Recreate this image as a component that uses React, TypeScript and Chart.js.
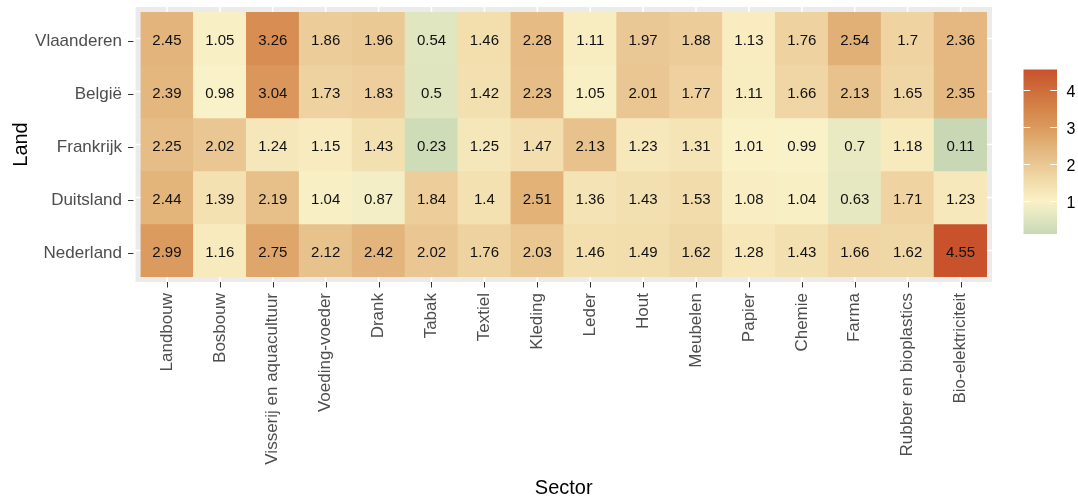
import React, { useEffect, useRef } from "react";
import { Chart, registerables } from "chart.js";

Chart.register(...registerables);

const lands = ["Vlaanderen", "België", "Frankrijk", "Duitsland", "Nederland"];
const sectors = [
  "Landbouw",
  "Bosbouw",
  "Visserij en aquacultuur",
  "Voeding-voeder",
  "Drank",
  "Tabak",
  "Textiel",
  "Kleding",
  "Leder",
  "Hout",
  "Meubelen",
  "Papier",
  "Chemie",
  "Farma",
  "Rubber en bioplastics",
  "Bio-elektriciteit",
];

const vlaanderen = [2.45, 1.05, 3.26, 1.86, 1.96, 0.54, 1.46, 2.28, 1.11, 1.97, 1.88, 1.13, 1.76, 2.54, 1.7, 2.36];
const belgie = [2.39, 0.98, 3.04, 1.73, 1.83, 0.5, 1.42, 2.23, 1.05, 2.01, 1.77, 1.11, 1.66, 2.13, 1.65, 2.35];
const frankrijk = [2.25, 2.02, 1.24, 1.15, 1.43, 0.23, 1.25, 1.47, 2.13, 1.23, 1.31, 1.01, 0.99, 0.7, 1.18, 0.11];
const duitsland = [2.44, 1.39, 2.19, 1.04, 0.87, 1.84, 1.4, 2.51, 1.36, 1.43, 1.53, 1.08, 1.04, 0.63, 1.71, 1.23];
const nederland = [2.99, 1.16, 2.75, 2.12, 2.42, 2.02, 1.76, 2.03, 1.46, 1.49, 1.62, 1.28, 1.43, 1.66, 1.62, 4.55];

const rows = [vlaanderen, belgie, frankrijk, duitsland, nederland];
const legendTicks = [1, 2, 3, 4];

// colour scale stops: value -> rgb
const colorStopValues = [0.11, 0.5, 1.0, 1.5, 2.0, 2.5, 3.0, 3.5, 4.55];
const colorStopColors = [
  [200, 216, 181],
  [222, 229, 191],
  [250, 241, 199],
  [242, 221, 172],
  [234, 199, 147],
  [226, 178, 120],
  [219, 153, 93],
  [213, 132, 72],
  [200, 82, 44],
];

const FONT = "'Liberation Sans', Arial, sans-serif";

const allValues = rows.flat();
const vMin = Math.min(...allValues);
const vMax = Math.max(...allValues);

function fillColor(v: number): string {
  const vs = colorStopValues;
  let i = 0;
  while (i < vs.length - 2 && v > vs[i + 1]) i++;
  const s = Math.min(1, Math.max(0, (v - vs[i]) / (vs[i + 1] - vs[i])));
  const a = colorStopColors[i], b = colorStopColors[i + 1];
  const c = [0, 1, 2].map((k) => Math.round(a[k] + (b[k] - a[k]) * s));
  return `rgb(${c[0]},${c[1]},${c[2]})`;
}

const panelPlugin = {
  id: "panelBg",
  beforeDatasetsDraw(chart: any) {
    const { ctx, chartArea } = chart;
    const m = 5;
    ctx.save();
    ctx.fillStyle = "#EBEBEB";
    ctx.fillRect(chartArea.left - m, chartArea.top - m, chartArea.right - chartArea.left + 2 * m, chartArea.bottom - chartArea.top + 2 * m);
    ctx.strokeStyle = "#FFFFFF";
    ctx.lineWidth = 1.5;
    const xs = chart.scales.x;
    const ys = chart.scales.y;
    xs.ticks.forEach((_: any, i: number) => {
      const px = xs.getPixelForTick(i);
      ctx.beginPath();
      ctx.moveTo(px, chartArea.top - m);
      ctx.lineTo(px, chartArea.bottom + m);
      ctx.stroke();
    });
    ys.ticks.forEach((_: any, i: number) => {
      const py = ys.getPixelForTick(i);
      ctx.beginPath();
      ctx.moveTo(chartArea.left - m, py);
      ctx.lineTo(chartArea.right + m, py);
      ctx.stroke();
    });
    ctx.strokeStyle = "#333333";
    ctx.lineWidth = 1;
    xs.ticks.forEach((_: any, i: number) => {
      const px = Math.round(xs.getPixelForTick(i)) + 0.5;
      ctx.beginPath();
      ctx.moveTo(px, chartArea.bottom + m);
      ctx.lineTo(px, chartArea.bottom + m + 5.5);
      ctx.stroke();
    });
    ys.ticks.forEach((_: any, i: number) => {
      const py = Math.round(ys.getPixelForTick(i)) + 2.5;
      ctx.beginPath();
      ctx.moveTo(chartArea.left - m - 2, py);
      ctx.lineTo(chartArea.left - m - 7.5, py);
      ctx.stroke();
    });
    ctx.restore();
  },
};

const cellLabelPlugin = {
  id: "cellLabels",
  afterDatasetsDraw(chart: any) {
    const { ctx } = chart;
    ctx.save();
    ctx.font = `15px ${FONT}`;
    ctx.fillStyle = "#111111";
    ctx.textAlign = "center";
    ctx.textBaseline = "middle";
    chart.data.datasets.forEach((ds: any, di: number) => {
      const meta = chart.getDatasetMeta(di);
      meta.data.forEach((el: any, j: number) => {
        const c = el.getCenterPoint();
        ctx.fillText(String(ds.values[j]), c.x, c.y + 2);
      });
    });
    ctx.restore();
  },
};

const colorbarPlugin = {
  id: "colorbar",
  afterDraw(chart: any) {
    const { ctx } = chart;
    const left = 1023.5, width = 33.5, top = 69.5, height = 164.5;
    const yOf = (v: number) => top + ((vMax - v) / (vMax - vMin)) * height;
    ctx.save();
    const grad = ctx.createLinearGradient(0, top, 0, top + height);
    const n = 60;
    for (let i = 0; i <= n; i++) {
      const v = vMax - (i / n) * (vMax - vMin);
      grad.addColorStop(i / n, fillColor(v));
    }
    ctx.fillStyle = grad;
    ctx.fillRect(left, top, width, height);
    ctx.strokeStyle = "#FFFFFF";
    ctx.lineWidth = 1;
    ctx.font = `16px ${FONT}`;
    ctx.fillStyle = "#000000";
    ctx.textAlign = "left";
    ctx.textBaseline = "middle";
    legendTicks.forEach((v) => {
      const y = Math.round(yOf(v)) + 0.5;
      ctx.beginPath();
      ctx.moveTo(left, y);
      ctx.lineTo(left + width / 5, y);
      ctx.moveTo(left + width - width / 5, y);
      ctx.lineTo(left + width, y);
      ctx.stroke();
      ctx.fillText(String(v), 1066.5, yOf(v) + 2.5);
    });
    ctx.restore();
  },
};

export default function App() {
  const ref = useRef<HTMLCanvasElement | null>(null);
  useEffect(() => {
    if (!ref.current) return;
    const datasets = rows.map((vals, i) => ({
      label: lands[i],
      data: sectors.map(() => [i - 0.5, i + 0.5]),
      values: vals,
      backgroundColor: vals.map(fillColor),
      borderWidth: 0,
      grouped: false,
      barPercentage: 1,
      categoryPercentage: 1,
    }));
    const chart = new Chart(ref.current, {
      type: "bar",
      data: { labels: sectors, datasets: datasets as any },
      options: {
        animation: false,
        responsive: false,
        devicePixelRatio: 1,
        layout: { padding: { top: 12, right: 91, left: 0, bottom: 0 } },
        plugins: { legend: { display: false }, tooltip: { enabled: false } },
        scales: {
          x: {
            type: "category",
            offset: true,
            grid: { display: false },
            border: { display: false },
            ticks: {
              autoSkip: false,
              maxRotation: 90,
              minRotation: 90,
              padding: 8,
              color: "#4D4D4D",
              font: { family: FONT, size: 17 },
            },
            title: {
              display: true,
              text: "Sector",
              color: "#000000",
              font: { family: FONT, size: 20 },
              padding: { top: 0, bottom: -1 },
            },
            afterFit: (s: any) => {
              s.height = 222;
              s.paddingLeft = 0;
              s.paddingRight = 0;
            },
          },
          y: {
            type: "linear",
            min: -0.5,
            max: 4.5,
            reverse: true,
            grid: { display: false },
            border: { display: false },
            afterBuildTicks: (s: any) => {
              s.ticks = lands.map((_, i) => ({ value: i }));
            },
            ticks: {
              callback: (v: any) => lands[Number(v)] ?? "",
              padding: 10.5,
              labelOffset: 3,
              color: "#4D4D4D",
              font: { family: FONT, size: 17 },
            },
            title: {
              display: true,
              text: "Land",
              color: "#000000",
              font: { family: FONT, size: 20 },
              padding: { top: 9, bottom: 0 },
            },
            afterFit: (s: any) => {
              s.width = 140.5;
              s.paddingTop = 0;
              s.paddingBottom = 0;
            },
          },
        },
      },
      plugins: [panelPlugin, cellLabelPlugin, colorbarPlugin],
    });
    return () => chart.destroy();
  }, []);
  return (
    <div style={{ position: "fixed", left: 0, top: 0, width: 1078, height: 499, background: "#FFFFFF" }}>
      <canvas ref={ref} width={1078} height={499} style={{ width: 1078, height: 499 }} />
    </div>
  );
}
